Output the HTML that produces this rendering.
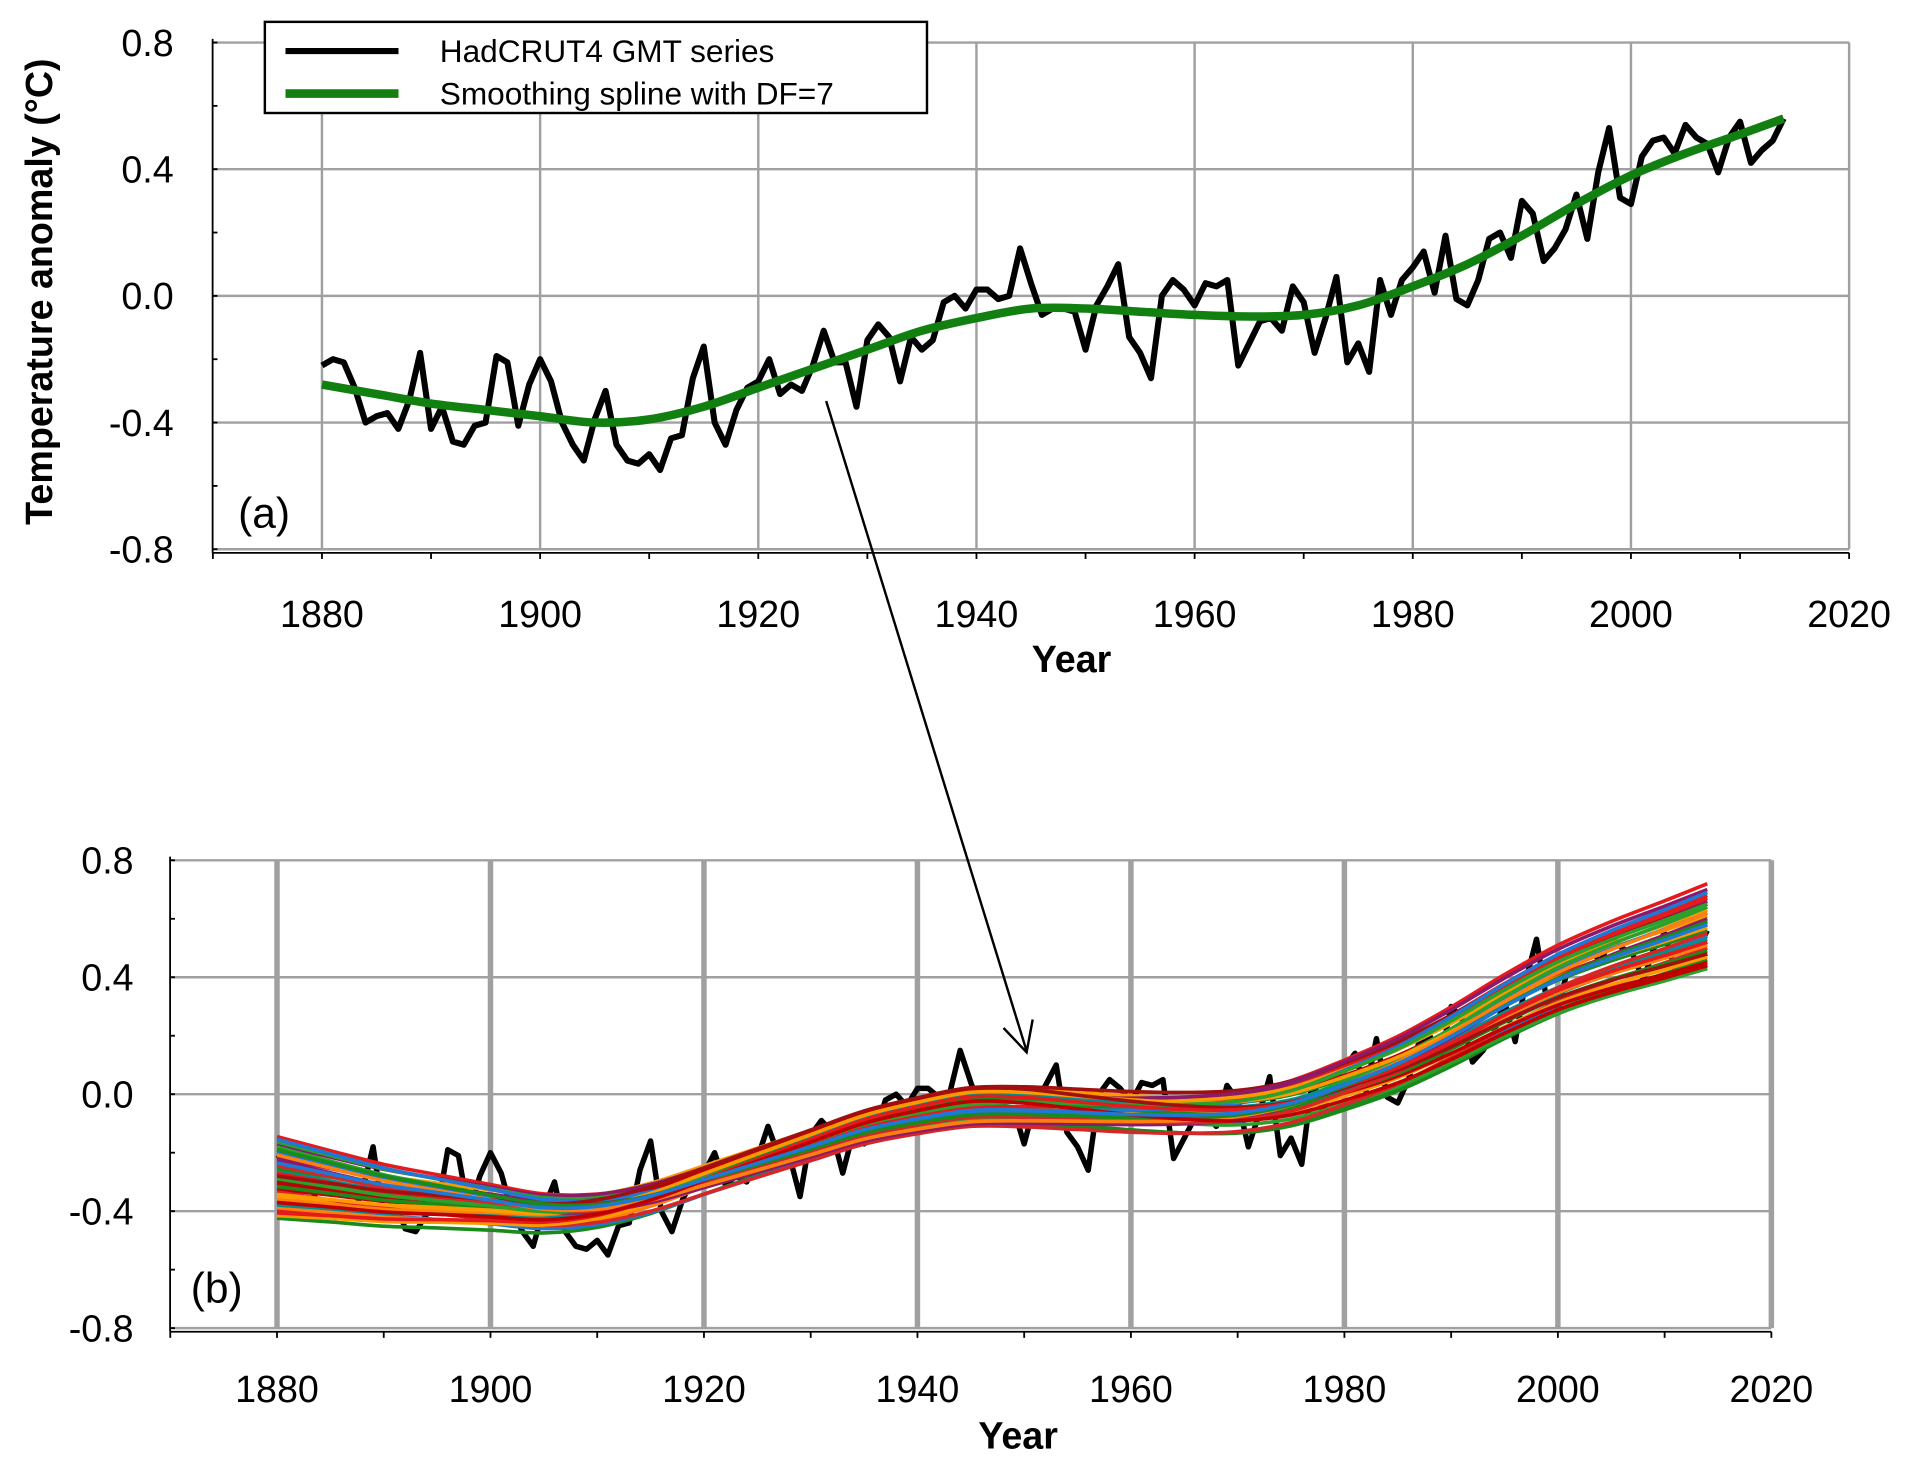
<!DOCTYPE html>
<html><head><meta charset="utf-8"><style>
html,body{margin:0;padding:0;background:#fff;}
svg{display:block;font-family:"Liberation Sans",sans-serif;}
</style></head><body>
<svg id="fig" width="1905" height="1463" viewBox="0 0 1568 1204" preserveAspectRatio="none" xmlns="http://www.w3.org/2000/svg">
<g id="pa"></g>
<g id="pb"></g>
<g id="ov"></g>
</svg>
<script>
const years = [];for(let y=1880;y<=2014;y++)years.push(y);
const gmt = [-0.22,-0.20,-0.21,-0.29,-0.40,-0.38,-0.37,-0.42,-0.33,-0.18,-0.42,-0.35,-0.46,-0.47,-0.41,-0.40,-0.19,-0.21,-0.41,-0.28,-0.20,-0.27,-0.40,-0.47,-0.52,-0.39,-0.30,-0.47,-0.52,-0.53,-0.50,-0.55,-0.45,-0.44,-0.26,-0.16,-0.40,-0.47,-0.36,-0.29,-0.27,-0.20,-0.31,-0.28,-0.30,-0.22,-0.11,-0.21,-0.21,-0.35,-0.14,-0.09,-0.13,-0.27,-0.13,-0.17,-0.14,-0.02,0.00,-0.04,0.02,0.02,-0.01,0.00,0.15,0.04,-0.06,-0.04,-0.04,-0.05,-0.17,-0.03,0.03,0.10,-0.13,-0.18,-0.26,0.00,0.05,0.02,-0.03,0.04,0.03,0.05,-0.22,-0.15,-0.08,-0.07,-0.11,0.03,-0.02,-0.18,-0.07,0.06,-0.21,-0.15,-0.24,0.05,-0.06,0.05,0.09,0.14,0.01,0.19,-0.01,-0.03,0.05,0.18,0.20,0.12,0.30,0.26,0.11,0.15,0.21,0.32,0.18,0.39,0.53,0.31,0.29,0.44,0.49,0.50,0.45,0.54,0.50,0.48,0.39,0.50,0.55,0.42,0.46,0.49,0.56];
const splineYears = [1880,1885,1890,1895,1900,1905,1910,1915,1920,1925,1930,1935,1940,1945,1950,1955,1960,1965,1970,1975,1980,1985,1990,1995,2000,2005,2010,2014];
const splineVals = [-0.28,-0.31,-0.34,-0.36,-0.38,-0.40,-0.39,-0.35,-0.29,-0.23,-0.17,-0.11,-0.07,-0.04,-0.04,-0.05,-0.06,-0.065,-0.06,-0.03,0.03,0.10,0.19,0.29,0.38,0.45,0.51,0.56];
const yTicks = [-0.8,-0.4,0.0,0.4,0.8];
const yTickLabels = ["-0.8","-0.4","0.0","0.4","0.8"];
const xTicks = [1880,1900,1920,1940,1960,1980,2000,2020];
// ensemble offsets: start, middle, end
const ensStart = [0.15,-0.16,0.08,-0.10,0.12,-0.05,0.02,-0.13,0.10,-0.08,0.05,-0.02,0.13,-0.12,0.07,-0.06,0.03,-0.15,0.09,-0.03,0.11,-0.09,0.01,-0.11,0.06,-0.04,0.14,-0.07,0.04,-0.01,0.00,0.08,-0.14,0.10,-0.10,0.05];
const ensMid = [0.02,-0.06,0.07,-0.08,0.04,0.06,-0.03,0.01,-0.07,0.05,-0.05,0.08,0.00,-0.02,0.03,-0.09,0.06,0.02,-0.04,0.07,-0.06,0.04,-0.01,0.05,-0.08,0.03,-0.03,0.06,-0.05,0.01,0.08,-0.07,0.04,-0.04,0.02,-0.02];
const ensEnd = [0.16,-0.12,0.05,-0.08,0.10,0.02,-0.04,0.12,-0.10,0.07,-0.02,0.09,-0.13,0.03,0.14,-0.06,0.00,-0.09,0.06,-0.11,0.08,-0.05,0.11,-0.03,0.04,-0.07,0.13,0.01,-0.01,0.09,-0.08,0.06,-0.04,0.03,-0.12,0.02];
const ensColors = ["#e41a1c","#1a8a1a","#ff9900","#1f78d4","#8b1a6b","#c00000","#009090","#e41a1c","#1a8a1a","#ff9900","#1f78d4","#a01010","#2ca02c","#ff7f0e","#8b1a6b","#d62728","#1a8a1a","#ff9900","#1f78d4","#c00000","#2ca02c","#ff7f0e","#e41a1c","#009090","#8b1a6b","#1a8a1a","#1f78d4","#ff9900","#d62728","#2ca02c","#a01010","#ff7f0e","#e41a1c","#1a8a1a","#c00000","#1f78d4"];

const NS="http://www.w3.org/2000/svg";
function mk(parent,tag,attrs,text){const e=document.createElementNS(NS,tag);for(const k in attrs)e.setAttribute(k,attrs[k]);if(text!==undefined)e.textContent=text;parent.appendChild(e);return e;}
function smoothPath(pts){let d="M"+pts[0][0]+","+pts[0][1];for(let i=0;i<pts.length-1;i++){const p0=pts[Math.max(0,i-1)],p1=pts[i],p2=pts[i+1],p3=pts[Math.min(pts.length-1,i+2)];const c1=[p1[0]+(p2[0]-p0[0])/6,p1[1]+(p2[1]-p0[1])/6],c2=[p2[0]-(p3[0]-p1[0])/6,p2[1]-(p3[1]-p1[1])/6];d+=" C"+c1[0]+","+c1[1]+" "+c2[0]+","+c2[1]+" "+p2[0]+","+p2[1];}return d;}

function panel(g,o){
  const X=v=>o.x0+(v-1880)*(o.x1-o.x0)/140;
  const Y=v=>o.y0-(v+0.8)*(o.y0-o.y1)/1.6;
  xTicks.forEach(t=>{const l=mk(g,"line",{x1:X(t),x2:X(t),y1:Y(0.8),y2:Y(-0.8),stroke:o.vgc,"stroke-width":o.vgw});
    
    });
  yTicks.forEach(t=>{const l=mk(g,"line",{x1:o.ax,x2:X(2020),y1:Y(t),y2:Y(t),stroke:"#a0a0a0","stroke-width":2});
    
    });
  mk(g,"line",{x1:o.ax,x2:o.ax,y1:Y(0.8)-3,y2:Y(-0.8)+3,stroke:"#000","stroke-width":1.5});
  mk(g,"line",{x1:o.ax,x2:X(2020),y1:Y(-0.8)+3,y2:Y(-0.8)+3,stroke:"#000","stroke-width":1.5});
  for(let v=-0.8;v<=0.81;v+=0.2)mk(g,"line",{x1:o.ax,x2:o.ax+4,y1:Y(v),y2:Y(v),stroke:"#000","stroke-width":1.5});
  for(let t=1870;t<=2020;t+=10)mk(g,"line",{x1:X(t),x2:X(t),y1:Y(-0.8)+3,y2:Y(-0.8)+8,stroke:"#000","stroke-width":1.5});
  yTicks.forEach((t,i)=>{const e=mk(g,"text",{x:o.ylx,y:Y(t)+11,"text-anchor":"end","font-size":31},yTickLabels[i]);
    
    });
  xTicks.forEach(t=>{const e=mk(g,"text",{x:X(t),y:o.xly,"text-anchor":"middle","font-size":31},String(t));
    
    });
  const xt=mk(g,"text",{x:o.xtx,y:o.xty,"text-anchor":"middle","font-size":31,"font-weight":"bold"},"Year");
  
  
  const pl=mk(g,"text",{x:o.plx,y:o.ply,"font-size":35},o.pl);
  
  
  return {X,Y};
}

const pa=document.getElementById('pa'),pb=document.getElementById('pb'),ov=document.getElementById('ov');
const A=panel(pa,{x0:265,x1:1522,y0:452,y1:35,ax:175,ylx:143,xly:516,xtx:882,xty:553,vgc:"#a0a0a0",vgw:2,plx:196,ply:434,pl:"(a)"});
const B=panel(pb,{x0:228,x1:1458,y0:1093,y1:708,ax:140,ylx:110,xly:1154,xtx:838,xty:1192,vgc:"#a0a0a0",vgw:4.5,plx:157,ply:1072,pl:"(b)"});

const yl=mk(pa,"text",{x:0,y:0,transform:"translate(43,240) rotate(-90)","text-anchor":"middle","font-size":31,"font-weight":"bold"},"Temperature anomaly  (°C)");



const ga=mk(pa,"path",{d:years.map((y,i)=>(i?"L":"M")+A.X(y)+","+A.Y(gmt[i])).join(" "),fill:"none",stroke:"#000","stroke-width":5,"stroke-linejoin":"round"});


const sa=mk(pa,"path",{d:smoothPath(splineYears.map((y,i)=>[A.X(y),A.Y(splineVals[i])])),fill:"none",stroke:"#118011","stroke-width":7});



const lg=mk(pa,"g",{});


mk(lg,"rect",{x:218,y:18,width:545,height:75,fill:"#fff",stroke:"#000","stroke-width":2});
mk(lg,"line",{x1:235,x2:328,y1:42,y2:42,stroke:"#000","stroke-width":5});
mk(lg,"line",{x1:235,x2:328,y1:77,y2:77,stroke:"#118011","stroke-width":7});
const l1=mk(lg,"text",{x:362,y:51,"font-size":26},"HadCRUT4 GMT series");


const l2=mk(lg,"text",{x:362,y:86,"font-size":26},"Smoothing spline with DF=7");



const gb=mk(pb,"path",{d:years.map((y,i)=>(i?"L":"M")+B.X(y)+","+B.Y(gmt[i])).join(" "),fill:"none",stroke:"#000","stroke-width":4.5,"stroke-linejoin":"round"});


ensStart.forEach((s,k)=>{
  const pts=splineYears.map((y,i)=>{const t=(y-1880)/134;const w0=Math.max(0,1-2*t),w2=Math.max(0,2*t-1),w1=1-w0-w2;
    return [B.X(y),B.Y(splineVals[i]+s*w0*w0*0.9+ensMid[k]*w1*0.8+ensEnd[k]*w2)];});
  const p=mk(pb,"path",{d:smoothPath(pts),fill:"none",stroke:ensColors[k],"stroke-width":3});
  
  
});

const ar=mk(ov,"g",{});


mk(ar,"line",{x1:680,y1:330,x2:845,y2:865,stroke:"#000","stroke-width":2});
mk(ar,"polyline",{points:"826,846 845,866 850,839",fill:"none",stroke:"#000","stroke-width":2});
</script>
</body></html>
